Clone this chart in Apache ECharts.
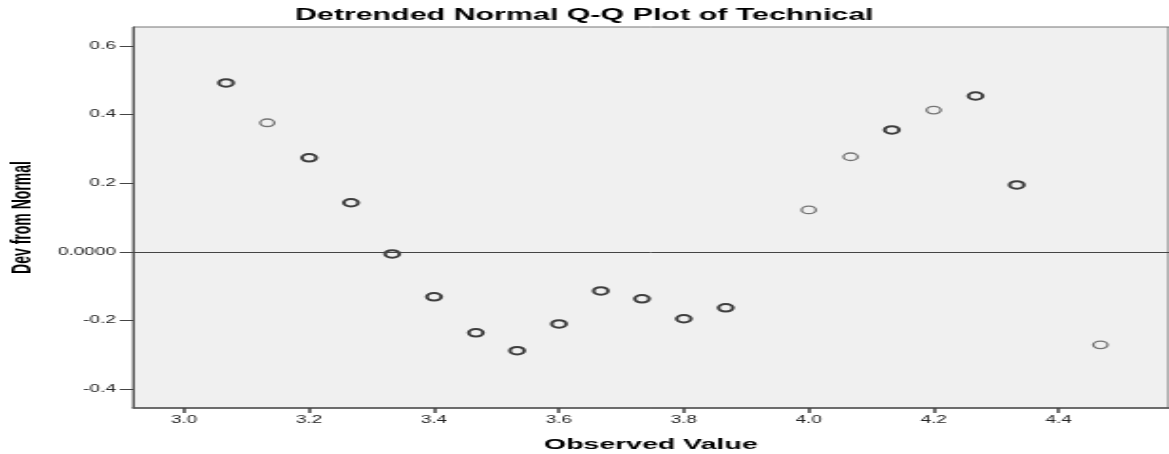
<!DOCTYPE html>
<html>
<head>
<meta charset="utf-8">
<script src="https://cdn.jsdelivr.net/npm/echarts@6/dist/echarts.min.js"></script>
<style>
  html, body { margin: 0; padding: 0; background: #fff; overflow: hidden; }
  /* the reference is stretched sideways, so the chart is drawn narrow and scaled */
  #qq {
    width: 615.26px;
    height: 454px;
    transform: scaleX(1.9);
    transform-origin: 0 0;
  }
</style>
</head>
<body>
<div id="qq"></div>
<script>
const observed = [3.067, 3.133, 3.2, 3.267, 3.333, 3.4, 3.467, 3.533, 3.6, 3.667,
  3.733, 3.8, 3.867, 4.0, 4.067, 4.133, 4.2, 4.267, 4.333, 4.467]
const devFromNormal = [0.492, 0.376, 0.274, 0.143, -0.006, -0.131, -0.236, -0.288, -0.21, -0.114,
  -0.137, -0.195, -0.163, 0.122, 0.277, 0.355, 0.413, 0.454, 0.195, -0.271]
// darker rings in the picture = repeated cases
const repeats = [2, 1, 2, 2, 2, 2, 2, 2, 2, 2, 2, 2, 2, 1, 1, 2, 1, 2, 2, 1]
const xTicks = [3.0, 3.2, 3.4, 3.6, 3.8, 4.0, 4.2, 4.4]
const yTicks = [-0.4, -0.2, 0, 0.2, 0.4, 0.6]

const myChart = echarts.init(document.getElementById('qq'))

myChart.setOption({
  animation: false,
  title: {
    text: 'Detrended Normal Q-Q Plot of Technical',
    left: 'center',
    top: 3,
    textStyle: {
      fontFamily: 'Liberation Sans',
      fontWeight: 'bold',
      fontSize: 16,
      color: '#000'
    }
  },
  grid: {
    left: 70,
    right: 0,
    top: 27,
    bottom: 46,
    outerBoundsMode: 'none',
    containLabel: false,
    show: true,
    backgroundColor: '#f0f0f0',
    borderColor: '#777',
    borderWidth: 1
  },
  xAxis: {
    type: 'value',
    min: 2.918,
    max: 4.576,
    name: 'Observed Value',
    nameLocation: 'middle',
    nameGap: 29,
    nameTextStyle: {
      fontFamily: 'Liberation Sans',
      fontWeight: 'bold',
      fontSize: 15,
      color: '#000'
    },
    axisLine: { show: true, onZero: false, lineStyle: { color: '#555', width: 1.5 } },
    axisTick: { show: true, length: 5, customValues: xTicks, lineStyle: { color: '#444', width: 1.5 } },
    axisLabel: {
      customValues: xTicks,
      margin: 7,
      fontFamily: 'Liberation Sans',
      fontSize: 10,
      color: '#222',
      formatter: (v) => v.toFixed(1)
    },
    splitLine: { show: false }
  },
  yAxis: {
    type: 'value',
    min: -0.455,
    max: 0.655,
    name: 'Dev from Normal',
    nameLocation: 'middle',
    nameRotate: 90,
    nameGap: 50,
    nameTextStyle: {
      fontFamily: 'Liberation Sans',
      fontWeight: 'bold',
      fontSize: 14,
      color: '#000'
    },
    axisLine: { show: true, onZero: false, lineStyle: { color: '#555', width: 1 } },
    axisTick: { show: true, length: 7, customValues: yTicks, lineStyle: { color: '#444' } },
    axisLabel: {
      customValues: yTicks,
      margin: 9,
      fontFamily: 'Liberation Sans',
      fontSize: 10,
      color: '#222',
      formatter: (v) => (Math.abs(v) < 1e-9 ? '0.0000' : v.toFixed(1))
    },
    splitLine: { show: false }
  },
  series: [
    {
      type: 'scatter',
      symbol: 'circle',
      symbolSize: 7.5,
      silent: true,
      data: observed.map((x, i) => ({
        value: [x, devFromNormal[i]],
        itemStyle: {
          color: 'rgba(0,0,0,0)',
          borderColor: repeats[i] > 1 ? '#111' : '#555',
          borderWidth: repeats[i] > 1 ? 2 : 1.3
        }
      })),
      markLine: {
        silent: true,
        symbol: 'none',
        label: { show: false },
        lineStyle: { color: '#444', width: 1, type: 'solid' },
        data: [{ yAxis: 0 }]
      }
    }
  ]
})
</script>
</body>
</html>
